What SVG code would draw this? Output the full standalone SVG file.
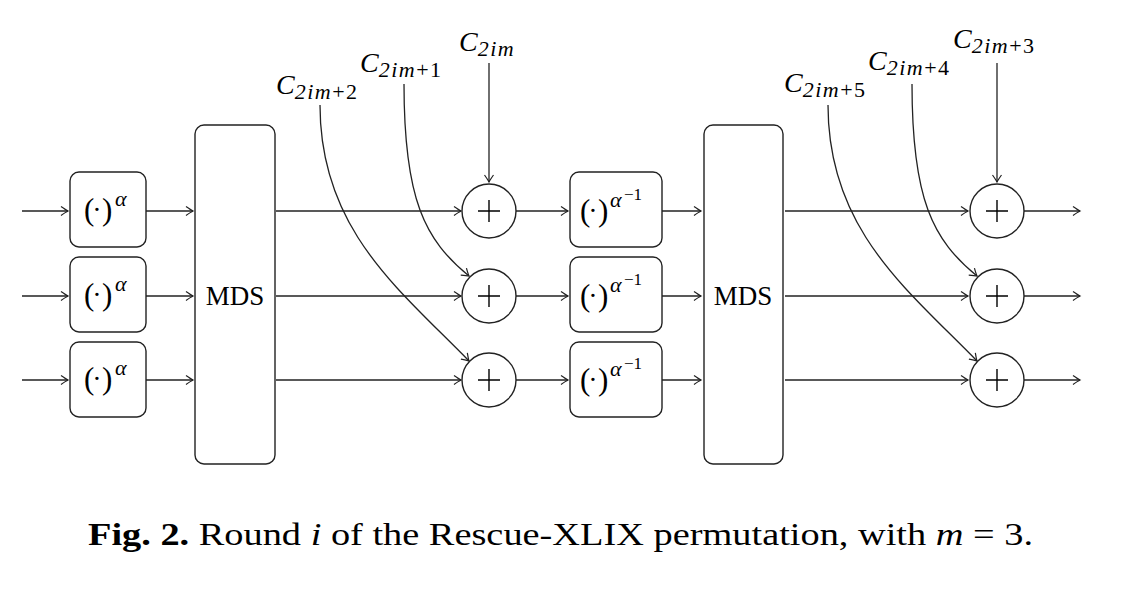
<svg xmlns="http://www.w3.org/2000/svg" width="1136" height="590" viewBox="0 0 1136 590">
<defs>
<marker id="arr" markerWidth="12" markerHeight="12" refX="0" refY="0" viewBox="-8 -6 10 12" orient="auto" markerUnits="userSpaceOnUse">
<path d="M-7,-4.5 Q-2,-1 0,0 Q-2,1 -7,4.5" fill="none" stroke="#222" stroke-width="1.2"/>
</marker>
<style>
.ln{fill:none;stroke:#222;stroke-width:1.3;marker-end:url(#arr)}
.bx{fill:#fff;stroke:#222;stroke-width:1.4}
.pl{stroke:#000;stroke-width:1.4}
.t{font-family:"Liberation Serif",serif;fill:#000}
.m{font-style:italic}
.p{font-size:31px}
.a{font-size:22px;font-style:italic}
.e{font-size:17px}
.s{font-size:22px;letter-spacing:1.5px}
.d{font-size:28px;text-anchor:middle}
</style>
</defs>
<g id="connectors">
<path class="ln" d="M22,211 H68"/>
<path class="ln" d="M22,296 H68"/>
<path class="ln" d="M22,380 H68"/>
<path class="ln" d="M146,211 H193"/>
<path class="ln" d="M146,296 H193"/>
<path class="ln" d="M146,380 H193"/>
<path class="ln" d="M276,211 H461"/>
<path class="ln" d="M276,296 H461"/>
<path class="ln" d="M276,380 H461"/>
<path class="ln" d="M516,211 H568"/>
<path class="ln" d="M516,296 H568"/>
<path class="ln" d="M516,380 H568"/>
<path class="ln" d="M662,211 H701"/>
<path class="ln" d="M662,296 H701"/>
<path class="ln" d="M662,380 H701"/>
<path class="ln" d="M785,211 H968"/>
<path class="ln" d="M785,296 H968"/>
<path class="ln" d="M785,380 H968"/>
<path class="ln" d="M1024,211 H1080"/>
<path class="ln" d="M1024,296 H1080"/>
<path class="ln" d="M1024,380 H1080"/>
<path class="ln" d="M489,63 V182"/>
<path class="ln" d="M404,84 C404,200 425,240 469,276"/>
<path class="ln" d="M320,105 C320,230 400,290 469,361"/>
<path class="ln" d="M997,63 V182"/>
<path class="ln" d="M912,84 C912,200 933,240 977,276"/>
<path class="ln" d="M828,105 C828,230 908,290 977,361"/>
</g>
<g id="pow1a"><rect class="bx" x="70" y="172" width="76" height="75" rx="9"/><text class="t p" x="84" y="220">(</text><text class="t d" x="97" y="219">·</text><text class="t p" x="102" y="220">)</text><text class="t a" x="115" y="206">α</text></g>
<g id="pow1b"><rect class="bx" x="70" y="257" width="76" height="75" rx="9"/><text class="t p" x="84" y="305">(</text><text class="t d" x="97" y="304">·</text><text class="t p" x="102" y="305">)</text><text class="t a" x="115" y="291">α</text></g>
<g id="pow1c"><rect class="bx" x="70" y="342" width="76" height="75" rx="9"/><text class="t p" x="84" y="389">(</text><text class="t d" x="97" y="388">·</text><text class="t p" x="102" y="389">)</text><text class="t a" x="115" y="375">α</text></g>
<g id="mds1"><rect class="bx" x="195" y="125" width="80" height="339" rx="9"/><text class="t" x="235" y="305" font-size="27" text-anchor="middle">MDS</text></g>
<g id="add1a"><circle class="bx" cx="489" cy="211" r="27"/><path class="pl" d="M478,211 H500 M489,200 V222"/></g>
<g id="add1b"><circle class="bx" cx="489" cy="296" r="27"/><path class="pl" d="M478,296 H500 M489,285 V307"/></g>
<g id="add1c"><circle class="bx" cx="489" cy="380" r="27"/><path class="pl" d="M478,380 H500 M489,369 V391"/></g>
<g id="pow2a"><rect class="bx" x="570" y="172" width="92" height="75" rx="9"/><text class="t p" x="580" y="221">(</text><text class="t d" x="593" y="220">·</text><text class="t p" x="598" y="221">)</text><text class="t a" x="610" y="207">α</text><text class="t e" x="624" y="200">−1</text></g>
<g id="pow2b"><rect class="bx" x="570" y="257" width="92" height="75" rx="9"/><text class="t p" x="580" y="306">(</text><text class="t d" x="593" y="305">·</text><text class="t p" x="598" y="306">)</text><text class="t a" x="610" y="292">α</text><text class="t e" x="624" y="285">−1</text></g>
<g id="pow2c"><rect class="bx" x="570" y="342" width="92" height="75" rx="9"/><text class="t p" x="580" y="390">(</text><text class="t d" x="593" y="389">·</text><text class="t p" x="598" y="390">)</text><text class="t a" x="610" y="376">α</text><text class="t e" x="624" y="369">−1</text></g>
<g id="mds2"><rect class="bx" x="704" y="125" width="79" height="339" rx="9"/><text class="t" x="743" y="305" font-size="27" text-anchor="middle">MDS</text></g>
<g id="add2a"><circle class="bx" cx="997" cy="211" r="27"/><path class="pl" d="M986,211 H1008 M997,200 V222"/></g>
<g id="add2b"><circle class="bx" cx="997" cy="296" r="27"/><path class="pl" d="M986,296 H1008 M997,285 V307"/></g>
<g id="add2c"><circle class="bx" cx="997" cy="380" r="27"/><path class="pl" d="M986,380 H1008 M997,369 V391"/></g>
<g id="labels">
<text class="t" x="459" y="51" font-size="28"><tspan class="m">C</tspan><tspan class="s m" dy="5">2im</tspan></text>
<text class="t" x="360" y="72" font-size="28"><tspan class="m">C</tspan><tspan class="s" dy="5"><tspan class="m">2im</tspan>+1</tspan></text>
<text class="t" x="276" y="94" font-size="28"><tspan class="m">C</tspan><tspan class="s" dy="5"><tspan class="m">2im</tspan>+2</tspan></text>
<text class="t" x="953" y="48" font-size="28"><tspan class="m">C</tspan><tspan class="s" dy="5"><tspan class="m">2im</tspan>+3</tspan></text>
<text class="t" x="868" y="70" font-size="28"><tspan class="m">C</tspan><tspan class="s" dy="5"><tspan class="m">2im</tspan>+4</tspan></text>
<text class="t" x="784" y="92" font-size="28"><tspan class="m">C</tspan><tspan class="s" dy="5"><tspan class="m">2im</tspan>+5</tspan></text>
</g>
<text class="t" x="88" y="545" font-size="31" textLength="945" lengthAdjust="spacingAndGlyphs"><tspan font-weight="bold">Fig. 2.</tspan> Round <tspan class="m">i</tspan> of the Rescue-XLIX permutation, with <tspan class="m">m</tspan> = 3.</text>
</svg>
